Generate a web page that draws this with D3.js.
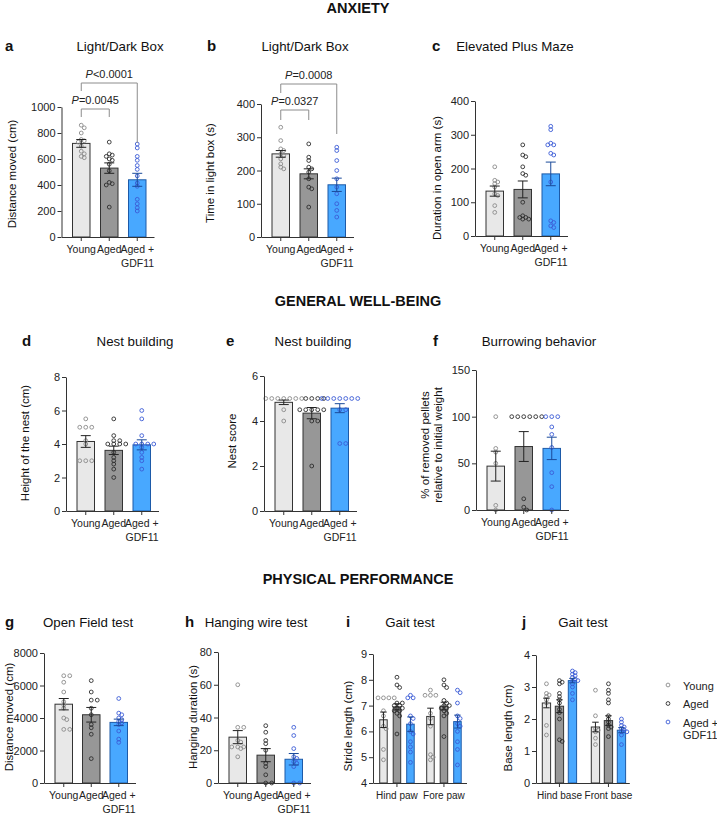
<!DOCTYPE html>
<html><head><meta charset="utf-8">
<script src="https://cdn.jsdelivr.net/npm/d3@7/dist/d3.min.js"></script>
<style>
body{margin:0;background:#fff;}
svg{display:block;font-family:"Liberation Sans",Arial,Helvetica,sans-serif;}
</style></head>
<body>
<svg id="chart" width="717" height="817"></svg>
<script>
// ---------------- DATA ----------------
const groups = ["Young", "Aged", "Aged + GDF11"];
const gaitPawGroups = ["Hind paw", "Fore paw"];
const gaitBaseGroups = ["Hind base", "Front base"];

// a: Light/Dark Box, distance moved (cm)
const ticksA = [0, 200, 400, 600, 800, 1000];
const meansA = [720, 530, 440];
const semA = [30, 40, 50];
const pointsA = [
  [860, 840, 800, 750, 740, 730, 700, 660, 640, 620, 610],
  [730, 640, 630, 620, 600, 590, 560, 510, 420, 410, 400, 230],
  [715, 685, 620, 590, 550, 520, 470, 415, 390, 290, 255, 225, 200]
];
const statsA = [
  { from: "Young", to: "Aged", label: "=0.0045" },
  { from: "Young", to: "Aged + GDF11", label: "<0.0001" }
];

// b: Light/Dark Box, time in light box (s)
const ticksB = [0, 100, 200, 300, 400];
const meansB = [250, 190, 157];
const semB = [10, 15, 20];
const pointsB = [
  [330, 290, 265, 260, 250, 245, 235, 220, 210, 205],
  [280, 240, 230, 210, 205, 195, 175, 150, 145, 90],
  [270, 260, 230, 200, 175, 150, 130, 100, 80, 60]
];
const statsB = [
  { from: "Young", to: "Aged", label: "=0.0327" },
  { from: "Young", to: "Aged + GDF11", label: "=0.0008" }
];

// c: Elevated Plus Maze
const ticksC = [0, 100, 200, 300, 400];
const meansC = [133, 138, 184];
const semC = [15, 25, 35];
const pointsC = [
  [205, 165, 160, 155, 145, 125, 120, 90, 70],
  [270, 240, 235, 205, 185, 180, 100, 60, 55, 55, 50, 50],
  [325, 315, 275, 270, 270, 245, 240, 160, 45, 40, 30, 25]
];

// d: Nest building, height (cm)
const ticksD = [0, 2, 4, 6, 8];
const meansD = [4.15, 3.62, 3.95];
const semD = [0.35, 0.25, 0.3];
const pointsD = [
  [5.5, 5, 5, 5, 4.2, 4, 3, 3, 3],
  [5.5, 4.5, 4.2, 4.2, 4, 4, 4, 4, 3.5, 3.2, 3, 2.8, 2.5, 2],
  [6, 5.5, 4.5, 4, 4, 4, 4, 3.8, 3.5, 3.2, 3, 2.5]
];

// e: Nest score
const ticksE = [0, 2, 4, 6];
const meansE = [4.83, 4.35, 4.57];
const semE = [0.1, 0.25, 0.2];
const pointsE = [
  [5, 5, 5, 5, 5, 5, 5, 4.5, 4],
  [5, 5, 5, 5, 4.5, 4.5, 4.5, 4.5, 4.5, 4, 4, 2],
  [5, 5, 5, 5, 5, 5, 5, 4.5, 4.5, 3, 3]
];

// f: Burrowing behavior
const ticksF = [0, 50, 100, 150];
const meansF = [47, 68, 66];
const semF = [16, 16, 12];
const pointsF = [
  [100, 66, 62, 50, 5, 0],
  [100, 100, 100, 100, 100, 100, 12, 3, 0],
  [100, 100, 100, 89, 81, 67, 40, 25, 0]
];

// g: Open Field test
const ticksG = [0, 2000, 4000, 6000, 8000];
const meansG = [4850, 4200, 3730];
const semG = [350, 450, 200];
const pointsG = [
  [6600, 6600, 6200, 5600, 5000, 4800, 4600, 4000, 3900, 3300, 3300],
  [6300, 5600, 5100, 5100, 4600, 4200, 3600, 3400, 3000, 1500],
  [5200, 4300, 4200, 4000, 3900, 3800, 3700, 3600, 3200, 2700, 2500]
];

// h: Hanging wire test
const ticksH = [0, 20, 40, 60, 80];
const meansH = [28, 17, 14.5];
const semH = [4, 4, 3.5];
const pointsH = [
  [60, 34, 34, 26, 25, 22, 22, 22, 21, 16],
  [35, 31, 26, 24, 20, 12, 10, 5, 0, 0],
  [34, 29, 21, 16, 15, 13, 12, 10, 0, 0]
];

// i: Gait test, stride length (cm)
const ticksI = [4, 5, 6, 7, 8, 9];
const meansIHind = [6.45, 6.95, 6.28];
const semIHind = [0.3, 0.12, 0.28];
const meansIFore = [6.58, 6.98, 6.38];
const semIFore = [0.32, 0.15, 0.25];
const pointsIHind = [
  [7.3, 7.3, 7.3, 7.3, 6.8, 6.6, 6.2, 6.1, 5.3, 4.9],
  [8.1, 7.8, 7.7, 7.1, 7.1, 7.0, 7.0, 6.9, 6.9, 6.8, 6.8, 6.7, 6.6, 5.9],
  [7.4, 7.3, 7.3, 6.6, 6.5, 6.3, 6.0, 5.9, 5.6, 5.4, 5.2, 4.8]
];
const pointsIFore = [
  [7.6, 7.4, 7.4, 7.4, 6.7, 6.5, 6.2, 5.1, 5.0, 4.9],
  [8.0, 7.8, 7.7, 7.2, 7.1, 7.0, 7.0, 6.9, 6.9, 6.8, 6.7, 6.6, 5.8],
  [7.6, 7.5, 7.1, 6.6, 6.5, 6.3, 6.2, 6.0, 5.6, 5.3, 4.7]
];

// j: Gait test, base length (cm)
const ticksJ = [0, 1, 2, 3, 4];
const meansJHind = [2.5, 2.4, 3.2];
const semJHind = [0.15, 0.2, 0.07];
const meansJFront = [1.75, 1.95, 1.65];
const semJFront = [0.15, 0.15, 0.08];
const pointsJHind = [
  [3.1, 2.8, 2.75, 2.7, 2.6, 2.5, 1.8, 1.5],
  [3.2, 3.15, 3.1, 2.8, 2.7, 2.6, 2.5, 2.3, 2.2, 2.0, 1.35, 1.3],
  [3.5, 3.45, 3.4, 3.35, 3.3, 3.25, 3.2, 3.2, 3.1, 3.0, 2.8, 2.6]
];
const pointsJFront = [
  [2.9, 2.1, 1.7, 1.65, 1.6, 1.4, 1.2],
  [3.1, 2.9, 2.8, 2.6, 2.5, 2.1, 2.0, 1.9, 1.8, 1.75, 1.7, 1.45],
  [2.0, 1.9, 1.8, 1.75, 1.7, 1.65, 1.6, 1.6, 1.5, 1.2]
];

const sections = ["ANXIETY", "GENERAL WELL-BEING", "PHYSICAL PERFORMANCE"];

// ---------------- STYLE ----------------
const barFill = ["#e8e8e8", "#979797", "#48a8ff"];
const barStroke = ["#333", "#333", "#1d5aa8"];
const dotStroke = ["#8a8a8a", "#2e2e2e", "#3b5bd6"];
const errStroke = ["#222", "#222", "#1a4a9a"];
const AX = "#333";

const svg = d3.select("#chart");

function bandScale(domain, x0, leftGap, step, bw, rightGap) {
  const n = domain.length;
  const W = leftGap + (n - 1) * step + bw + rightGap;
  const pi = 1 - bw / step;
  const extra = leftGap + rightGap;
  return d3.scaleBand().domain(domain).range([x0, x0 + W])
    .paddingInner(pi).paddingOuter(extra / 2 / step).align(leftGap / extra);
}

function swarm(vals, y, cx, step, minD) {
  const pts = vals.map(v => ({ v, py: y(v) })).sort((a, b) => a.py - b.py);
  const placed = [];
  pts.forEach(p => {
    for (let k = 0; k < 60; k++) {
      const off = k === 0 ? 0 : (k % 2 ? 1 : -1) * Math.ceil(k / 2) * step;
      const px = cx + off;
      if (placed.every(q => (q.px - px) ** 2 + (q.py - p.py) ** 2 >= minD * minD)) { p.px = px; break; }
    }
    placed.push(p);
  });
  return placed;
}

function yAxis(g, y, ticks) {
  const ax = g.append("g").attr("transform", `translate(${y.x0},0)`)
    .call(d3.axisLeft(y).tickValues(ticks).tickFormat(d => String(d)).tickSize(4).tickPadding(2).tickSizeOuter(0));
  ax.select(".domain").attr("stroke", AX);
  ax.selectAll(".tick line").attr("stroke", AX);
  ax.selectAll(".tick text").attr("fill", "#222").style("font-size", "11px");
}

function xAxis(g, x, yBase, fs) {
  const ax = g.append("g").attr("transform", `translate(0,${yBase})`)
    .call(d3.axisBottom(x).tickSize(4).tickPadding(5).tickSizeOuter(0));
  ax.select(".domain").attr("stroke", AX);
  ax.selectAll(".tick line").attr("stroke", AX);
  ax.selectAll(".tick text").attr("fill", "#222").style("font-size", fs)
    .each(function (d) {
      const t = d3.select(this);
      const i = d.lastIndexOf(" GDF11");
      if (i > 0) {
        t.text(null);
        const t1 = t.append("tspan").attr("x", 0).text(d.slice(0, i));
        const w1 = t1.node().getComputedTextLength();
        const t2 = t.append("tspan").text(d.slice(i + 1)).attr("dy", "1.25em");
        const w2 = t2.node().getComputedTextLength();
        t2.attr("x", (w1 - w2) / 2);
      }
    });
}

function headerText(cfg) {
  svg.append("text").attr("x", cfg.letterX).attr("y", cfg.titleY)
    .style("font-weight", "bold").style("font-size", "15px").attr("fill", "#111").text(cfg.letter);
  svg.append("text").attr("x", cfg.titleX).attr("y", cfg.titleY).attr("text-anchor", "middle")
    .style("font-size", "13.3px").attr("fill", "#111").text(cfg.title);
  cfg.ylabel.forEach((line, k) => {
    svg.append("text").attr("transform", `translate(${cfg.ylabelX[k]},${cfg.ylabelY}) rotate(-90)`)
      .attr("text-anchor", "middle").attr("dy", "0.35em")
      .style("font-size", "11.5px").attr("fill", "#111").text(line);
  });
}

function drawBars(g, xc, bw, y, base, means, sems, points, swStep, swD, capW) {
  groups.forEach((grp, i) => {
    const cx = xc(i);
    g.append("rect").attr("x", cx - bw / 2).attr("width", bw)
      .attr("y", y(means[i])).attr("height", y(base) - y(means[i]))
      .attr("fill", barFill[i]).attr("stroke", barStroke[i]).attr("stroke-width", 1);
    swarm(points[i], y, cx, swStep, swD).forEach(p => {
      g.append("circle").attr("cx", p.px).attr("cy", p.py).attr("r", 1.9)
        .attr("fill", "none").attr("stroke", dotStroke[i]).attr("stroke-width", 0.9);
    });
    const lo = y(means[i] - sems[i]), hi = y(means[i] + sems[i]);
    g.append("line").attr("x1", cx).attr("x2", cx).attr("y1", lo).attr("y2", hi)
      .attr("stroke", errStroke[i]).attr("stroke-width", 1);
    [lo, hi].forEach(yy => g.append("line").attr("x1", cx - capW / 2).attr("x2", cx + capW / 2)
      .attr("y1", yy).attr("y2", yy).attr("stroke", errStroke[i]).attr("stroke-width", 1));
  });
}

function simplePanel(cfg) {
  headerText(cfg);
  const g = svg.append("g");
  const x = bandScale(groups, cfg.x0, 11, cfg.step || 28, 17.5, 8);
  const y = d3.scaleLinear().domain([cfg.ticks[0], cfg.ticks[cfg.ticks.length - 1]]).range([cfg.y0, cfg.y1]);
  y.x0 = cfg.x0;
  const bw = x.bandwidth();
  drawBars(g, i => x(groups[i]) + bw / 2, bw, y, cfg.ticks[0], cfg.means, cfg.sems, cfg.points, 3.0, 3.1, 10);
  yAxis(g, y, cfg.ticks);
  xAxis(g, x, cfg.y0, "10.5px");
  if (cfg.stats) {
    cfg.stats.forEach((s, k) => {
      const lv = cfg.statLevels[k];
      const xa = x(s.from) + bw / 2, xb = x(s.to) + bw / 2;
      g.append("path").attr("d", `M${xa},${lv.y + lv.l}V${lv.y}H${xb}V${lv.y + lv.r}`)
        .attr("fill", "none").attr("stroke", "#8c8c8c").attr("stroke-width", 1);
      const t = g.append("text").attr("x", (xa + xb) / 2).attr("y", lv.y - 5)
        .attr("text-anchor", "middle").style("font-size", "11px").attr("fill", "#222");
      t.append("tspan").style("font-style", "italic").text("P");
      t.append("tspan").text(s.label);
    });
  }
}

function groupedPanel(cfg) {
  headerText(cfg);
  const g = svg.append("g");
  const innerW = 2 * cfg.step + cfg.bw;
  const xo = bandScale(cfg.groupNames, cfg.x0, cfg.leftGap, cfg.groupStep, innerW, cfg.rightGap);
  const xi = d3.scaleBand().domain(groups).range([0, innerW]).paddingInner(1 - cfg.bw / cfg.step).paddingOuter(0);
  const y = d3.scaleLinear().domain([cfg.ticks[0], cfg.ticks[cfg.ticks.length - 1]]).range([cfg.y0, cfg.y1]);
  y.x0 = cfg.x0;
  cfg.groupNames.forEach((gn, k) => {
    drawBars(g, i => xo(gn) + xi(groups[i]) + xi.bandwidth() / 2, xi.bandwidth(), y, cfg.ticks[0],
      cfg.means[k], cfg.sems[k], cfg.points[k], 2.7, 3.0, 6.5);
  });
  yAxis(g, y, cfg.ticks);
  xAxis(g, xo, cfg.y0, "10px");
}

// ---------------- SECTION HEADINGS ----------------
[13, 306, 584].forEach((yy, k) => {
  svg.append("text").attr("x", 358).attr("y", yy).attr("text-anchor", "middle")
    .style("font-weight", "bold").style("font-size", "14.5px").attr("fill", "#111").text(sections[k]);
});

// ---------------- PANELS ----------------
simplePanel({ letter: "a", letterX: 5, title: "Light/Dark Box", titleX: 120, titleY: 51,
  ylabel: ["Distance moved (cm)"], ylabelX: [12], ylabelY: 174,
  x0: 61.5, y0: 237, y1: 107, ticks: ticksA, means: meansA, sems: semA, points: pointsA,
  stats: statsA, statLevels: [{ y: 109, l: 8, r: 8 }, { y: 83, l: 8, r: 60 }] });

simplePanel({ letter: "b", letterX: 207, title: "Light/Dark Box", titleX: 305, titleY: 51,
  ylabel: ["Time in light box (s)"], ylabelX: [210], ylabelY: 173,
  x0: 261, y0: 237, y1: 104, ticks: ticksB, means: meansB, sems: semB, points: pointsB,
  stats: statsB, statLevels: [{ y: 110, l: 10, r: 10 }, { y: 84, l: 9, r: 50 }] });

simplePanel({ letter: "c", letterX: 432, title: "Elevated Plus Maze", titleX: 515, titleY: 51,
  ylabel: ["Duration in open arm (s)"], ylabelX: [437], ylabelY: 178,
  x0: 475, y0: 236, y1: 101, ticks: ticksC, means: meansC, sems: semC, points: pointsC });

simplePanel({ letter: "d", letterX: 22, title: "Nest building", titleX: 135, titleY: 346,
  ylabel: ["Height of the nest (cm)"], ylabelX: [25], ylabelY: 443,
  x0: 66, y0: 511, y1: 377, ticks: ticksD, means: meansD, sems: semD, points: pointsD });

simplePanel({ letter: "e", letterX: 226, title: "Nest building", titleX: 313, titleY: 346,
  ylabel: ["Nest score"], ylabelX: [232], ylabelY: 441,
  x0: 264, y0: 511, y1: 376, ticks: ticksE, means: meansE, sems: semE, points: pointsE });

simplePanel({ letter: "f", letterX: 433, title: "Burrowing behavior", titleX: 539, titleY: 346,
  ylabel: ["% of removed pellets", "relative to initial weight"], ylabelX: [425, 438], ylabelY: 445,
  x0: 476, y0: 510, y1: 370, ticks: ticksF, means: meansF, sems: semF, points: pointsF });

simplePanel({ letter: "g", letterX: 5, title: "Open Field test", titleX: 88, titleY: 627,
  ylabel: ["Distance moved (cm)"], ylabelX: [9], ylabelY: 717,
  x0: 44, y0: 783, y1: 653, step: 27.5, ticks: ticksG, means: meansG, sems: semG, points: pointsG });

simplePanel({ letter: "h", letterX: 185, title: "Hanging wire test", titleX: 256, titleY: 627,
  ylabel: ["Hanging duration (s)"], ylabelX: [193], ylabelY: 717,
  x0: 218, y0: 783, y1: 652, ticks: ticksH, means: meansH, sems: semH, points: pointsH });

groupedPanel({ letter: "i", letterX: 346, title: "Gait test", titleX: 410, titleY: 627,
  ylabel: ["Stride length (cm)"], ylabelX: [348], ylabelY: 726,
  x0: 373, y0: 783, y1: 654, ticks: ticksI, groupNames: gaitPawGroups,
  leftGap: 6.7, step: 13.5, bw: 7.5, groupStep: 47, rightGap: 5.3,
  means: [meansIHind, meansIFore], sems: [semIHind, semIFore], points: [pointsIHind, pointsIFore] });

groupedPanel({ letter: "j", letterX: 522, title: "Gait test", titleX: 583, titleY: 627,
  ylabel: ["Base length (cm)"], ylabelX: [508], ylabelY: 728,
  x0: 536, y0: 783, y1: 655, ticks: ticksJ, groupNames: gaitBaseGroups,
  leftGap: 6.3, step: 13, bw: 8.3, groupStep: 49, rightGap: 3.7,
  means: [meansJHind, meansJFront], sems: [semJHind, semJFront], points: [pointsJHind, pointsJFront] });

// ---------------- LEGEND ----------------
const lg = svg.append("g");
[685, 703.5, 722].forEach((yy, i) => {
  lg.append("circle").attr("cx", 668).attr("cy", yy).attr("r", 1.9)
    .attr("fill", "none").attr("stroke", dotStroke[i]).attr("stroke-width", 0.9);
  const lines = groups[i].replace(" GDF11", "\nGDF11").split("\n");
  const t = lg.append("text").attr("x", 683).attr("y", yy + 4.5).style("font-size", "11px").attr("fill", "#222");
  lines.forEach((ln, k) => t.append("tspan").attr("x", 683).attr("dy", k ? "1.15em" : 0).text(ln));
});
</script>
</body></html>
